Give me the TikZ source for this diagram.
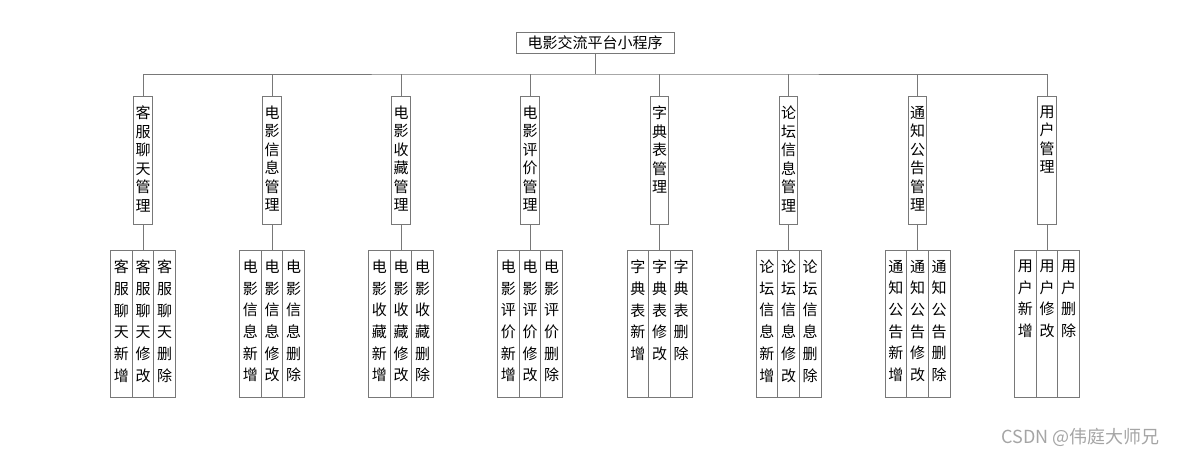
\documentclass[tikz,border=0pt]{standalone}
\usepackage{fontspec}
\setmainfont{Noto Sans CJK SC}
\usepackage{tikz}
\usetikzlibrary{positioning}

\definecolor{linegray}{RGB}{120,120,120}
\definecolor{markgray}{RGB}{165,165,165}

\newcommand{\vmid}[1]{\parbox[t][128pt][t]{18pt}{\centering\fontsize{15}{18.5}\selectfont\vspace*{9.5pt}#1}}
\newcommand{\vleaf}[1]{\parbox[t][147pt][t]{21pt}{\centering\fontsize{15}{21.7}\selectfont\vspace*{9.5pt}#1}}

\tikzset{
    rootbox/.style={draw=linegray, line width=0.8pt, inner sep=0pt, minimum width=158pt, minimum height=21pt, font=\fontsize{15}{16}\selectfont},
    midbox/.style={draw=linegray, line width=0.8pt, inner sep=0pt, minimum width=18.5pt, anchor=north},
    leafbox/.style={draw=linegray, line width=0.8pt, inner sep=0pt, minimum width=21.7pt, anchor=north},
    wire/.style={draw=linegray, line width=0.8pt}
}

\begin{document}
\begin{tikzpicture}[x=1pt, y=-1pt]
                \useasboundingbox (0,0) rectangle (1177,455);

                % top
                \node[rootbox] (root) at (595,42.5) {电影交流平台小程序};
                \coordinate (bus) at (595,74);

                % second row
                \node[midbox] (m1) at (143,96) {\vmid{客\\服\\聊\\天\\管\\理}};
                \node[midbox] (m2) at (272,96) {\vmid{电\\影\\信\\息\\管\\理}};
                \node[midbox] (m3) at (401,96) {\vmid{电\\影\\收\\藏\\管\\理}};
                \node[midbox] (m4) at (530,96) {\vmid{电\\影\\评\\价\\管\\理}};
                \node[midbox] (m5) at (659.5,96) {\vmid{字\\典\\表\\管\\理}};
                \node[midbox] (m6) at (788.5,96) {\vmid{论\\坛\\信\\息\\管\\理}};
                \node[midbox] (m7) at (917.5,96) {\vmid{通\\知\\公\\告\\管\\理}};
                \node[midbox] (m8) at (1047,96) {\vmid{用\\户\\管\\理}};

                % third row
                \node[leafbox] (a1) at (121.3,250) {\vleaf{客\\服\\聊\\天\\新\\增}};
                \node[leafbox] (a2) at (143,250) {\vleaf{客\\服\\聊\\天\\修\\改}};
                \node[leafbox] (a3) at (164.7,250) {\vleaf{客\\服\\聊\\天\\删\\除}};

                \node[leafbox] (b1) at (250.3,250) {\vleaf{电\\影\\信\\息\\新\\增}};
                \node[leafbox] (b2) at (272,250) {\vleaf{电\\影\\信\\息\\修\\改}};
                \node[leafbox] (b3) at (293.7,250) {\vleaf{电\\影\\信\\息\\删\\除}};

                \node[leafbox] (c1) at (379.3,250) {\vleaf{电\\影\\收\\藏\\新\\增}};
                \node[leafbox] (c2) at (401,250) {\vleaf{电\\影\\收\\藏\\修\\改}};
                \node[leafbox] (c3) at (422.7,250) {\vleaf{电\\影\\收\\藏\\删\\除}};

                \node[leafbox] (d1) at (508.3,250) {\vleaf{电\\影\\评\\价\\新\\增}};
                \node[leafbox] (d2) at (530,250) {\vleaf{电\\影\\评\\价\\修\\改}};
                \node[leafbox] (d3) at (551.7,250) {\vleaf{电\\影\\评\\价\\删\\除}};

                \node[leafbox] (e1) at (637.8,250) {\vleaf{字\\典\\表\\新\\增}};
                \node[leafbox] (e2) at (659.5,250) {\vleaf{字\\典\\表\\修\\改}};
                \node[leafbox] (e3) at (681.2,250) {\vleaf{字\\典\\表\\删\\除}};

                \node[leafbox] (f1) at (766.8,250) {\vleaf{论\\坛\\信\\息\\新\\增}};
                \node[leafbox] (f2) at (788.5,250) {\vleaf{论\\坛\\信\\息\\修\\改}};
                \node[leafbox] (f3) at (810.2,250) {\vleaf{论\\坛\\信\\息\\删\\除}};

                \node[leafbox] (g1) at (895.8,250) {\vleaf{通\\知\\公\\告\\新\\增}};
                \node[leafbox] (g2) at (917.5,250) {\vleaf{通\\知\\公\\告\\修\\改}};
                \node[leafbox] (g3) at (939.2,250) {\vleaf{通\\知\\公\\告\\删\\除}};

                \node[leafbox] (h1) at (1025.3,250) {\vleaf{用\\户\\新\\增}};
                \node[leafbox] (h2) at (1047,250) {\vleaf{用\\户\\修\\改}};
                \node[leafbox] (h3) at (1068.7,250) {\vleaf{用\\户\\删\\除}};

                % wires
                \draw[wire] (root.south) -- (bus);
                \draw[wire] (m1.north) |- (bus) -| (m8.north);
                \draw[wire] (m2.north) -- (m2.north |- bus);
                \draw[wire] (m3.north) -- (m3.north |- bus);
                \draw[wire] (m4.north) -- (m4.north |- bus);
                \draw[wire] (m5.north) -- (m5.north |- bus);
                \draw[wire] (m6.north) -- (m6.north |- bus);
                \draw[wire] (m7.north) -- (m7.north |- bus);

                \draw[wire] (m1.south) -- (a2.north);
                \draw[wire] (m2.south) -- (b2.north);
                \draw[wire] (m3.south) -- (c2.north);
                \draw[wire] (m4.south) -- (d2.north);
                \draw[wire] (m5.south) -- (e2.north);
                \draw[wire] (m6.south) -- (f2.north);
                \draw[wire] (m7.south) -- (g2.north);
                \draw[wire] (m8.south) -- (h2.north);

                \node[text=markgray, font=\fontsize{18}{20}\selectfont, anchor=east] (mark) at (1163,437) {CSDN @伟庭大师兄};
\end{tikzpicture}
\end{document}
